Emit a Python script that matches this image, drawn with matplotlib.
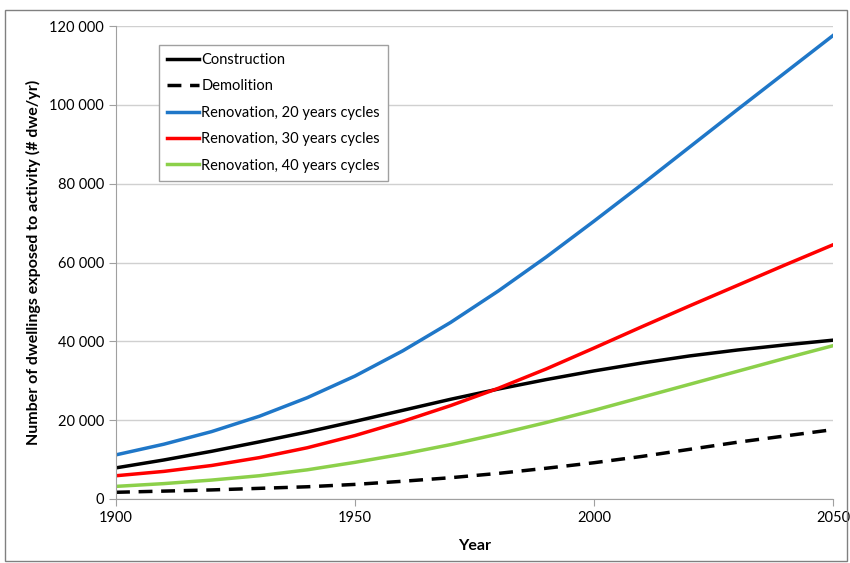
import matplotlib.pyplot as plt
from matplotlib.patches import Rectangle
from matplotlib.ticker import FuncFormatter

plt.rcParams['font.family'] = ['Lato', 'DejaVu Sans']

years = [1900, 1910, 1920, 1930, 1940, 1950, 1960, 1970, 1980,
         1990, 2000, 2010, 2020, 2030, 2040, 2050]
construction = [7900, 9900, 12100, 14500, 17000, 19700, 22500, 25300, 27900,
                30300, 32500, 34500, 36300, 37800, 39100, 40300]
demolition = [1700, 2000, 2300, 2700, 3100, 3700, 4500, 5400, 6500,
              7800, 9200, 10800, 12600, 14400, 16000, 17600]
reno20 = [11200, 13900, 17100, 21000, 25700, 31200, 37600, 44800, 52800,
          61400, 70500, 79800, 89300, 98800, 108200, 117600]
reno30 = [5900, 7000, 8500, 10500, 13000, 16100, 19700, 23700, 28100,
          33000, 38300, 43700, 49000, 54200, 59400, 64500]
reno40 = [3200, 3900, 4800, 5900, 7400, 9300, 11400, 13800, 16500,
          19400, 22500, 25800, 29100, 32400, 35700, 38900]

fig = plt.figure(figsize=(8.5, 5.63), dpi=100)
ax = fig.add_axes([0.1365, 0.1137, 0.8435, 0.840])

ax.plot(years, construction, color='black', lw=2.5, label='Construction')
ax.plot(years, demolition, color='black', lw=2.5, ls=(0, (4, 2.5)), label='Demolition')
ax.plot(years, reno20, color='#1f77c8', lw=2.5, label='Renovation, 20 years cycles')
ax.plot(years, reno30, color='#ff0000', lw=2.5, label='Renovation, 30 years cycles')
ax.plot(years, reno40, color='#8cd04a', lw=2.5, label='Renovation, 40 years cycles')

ax.set_xlim(1900, 2050)
ax.set_ylim(0, 120000)
ax.set_xticks([1900, 1950, 2000, 2050])
ax.set_yticks(range(0, 120001, 20000))
ax.yaxis.set_major_formatter(FuncFormatter(lambda v, p: f'{int(v):,}'.replace(',', ' ')))
ax.grid(axis='y', color='#d0d0d0', lw=1)
ax.set_axisbelow(True)
for s in ['top', 'right']:
    ax.spines[s].set_visible(False)
for s in ['left', 'bottom']:
    ax.spines[s].set_color('#a0a0a0')
ax.tick_params(colors='#a0a0a0', labelcolor='black', labelsize=10.5, length=5)

ax.set_xlabel('Year', fontsize=11.5, fontweight='bold', labelpad=10)
ax.set_ylabel('Number of dwellings exposed to activity (# dwe/yr)', fontsize=11.5,
              fontweight='bold', labelpad=6)

leg = ax.legend(loc='upper left', bbox_to_anchor=(0.060, 0.960), fontsize=10.5,
                handlelength=2.2, handletextpad=0.15, labelspacing=0.85,
                borderaxespad=0, fancybox=False, framealpha=1,
                edgecolor='#a0a0a0', borderpad=0.55)

fig.patches.append(Rectangle((0.006, 0.003), 0.99, 0.98, transform=fig.transFigure,
                             fill=False, edgecolor='#808080', lw=1))

fig.savefig('out.png', dpi=100)
